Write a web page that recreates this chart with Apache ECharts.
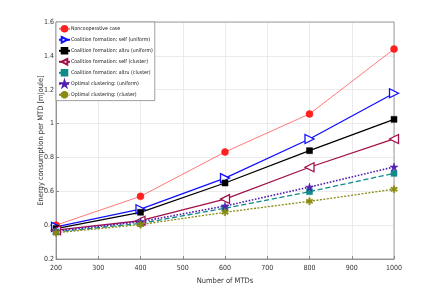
<!DOCTYPE html>
<html><head><meta charset="utf-8">
<script src="https://cdn.jsdelivr.net/npm/echarts@6/dist/echarts.min.js"></script>
<style>html,body{margin:0;padding:0;background:#fff}#c{width:436px;height:291px}</style>
</head><body><div id="c"></div>
<script>
const xValues = [200, 400, 600, 800, 1000];
const seriesNames = [
  'Noncooperative case',
  'Coalition formation: self (uniform)',
  'Coalition formation: altru (uniform)',
  'Coalition formation: self (cluster)',
  'Coalition formation: altru (cluster)',
  'Optimal clustering: (uniform)',
  'Optimal clustering: (cluster)'
];
const nonCoop      = [0.40, 0.57, 0.832, 1.057, 1.44];
const selfUniform  = [0.39, 0.494, 0.678, 0.909, 1.179];
const altruUniform = [0.38, 0.476, 0.649, 0.84, 1.025];
const selfCluster  = [0.37, 0.426, 0.554, 0.742, 0.909];
const altruCluster = [0.36, 0.41, 0.50, 0.598, 0.706];
const optUniform   = [0.365, 0.42, 0.513, 0.625, 0.744];
const optCluster   = [0.355, 0.403, 0.476, 0.541, 0.612];
const yTicks = [0.2, 0.4, 0.6, 0.8, 1, 1.2, 1.4, 1.6];

const font = "'Liberation Sans Narrow','DejaVu Sans Condensed',sans-serif";
const triR = 'path://M0,0L10,5L0,10Z';
const triL = 'path://M10,0L0,5L10,10Z';
const star = 'path://M50,0L61,35L98,35L68,57L79,91L50,70L21,91L32,57L2,35L39,35Z';
const aster = 'path://M4,0H6V3.3L8.8,1.7L9.8,3.4L7,5L9.8,6.6L8.8,8.3L6,6.7V10H4V6.7L1.2,8.3L0.2,6.6L3,5L0.2,3.4L1.2,1.7L4,3.3Z';

function mk(name, data, color, symbol, size, type, hollow, width, opacity) {
  return {
    name, type: 'line', data: data.map((v, i) => [xValues[i], v]),
    symbol, symbolSize: size, showSymbol: true,
    lineStyle: { color, width: width || 1.2, type: type || 'solid', opacity: opacity || 1 },
    itemStyle: hollow ? { color: '#fff', borderColor: color, borderWidth: 1.3 } : { color, borderColor: color, borderWidth: 0.5 },
    emphasis: { disabled: true }, animation: false
  };
}

const chart = echarts.init(document.getElementById('c'), null, { renderer: 'canvas' });
chart.setOption({
  animation: false,
  backgroundColor: '#fff',
  grid: { left: 56, right: 42, top: 22, bottom: 32, show: false },
  legend: {
    orient: 'vertical', left: 56, top: 22,
    itemWidth: 11, itemHeight: 7, itemGap: 3.4,
    padding: [3, 2, 2, 2],
    backgroundColor: '#fff', borderColor: '#888', borderWidth: 0.8,
    textStyle: { fontFamily: font, fontSize: 5.2, color: '#111', padding: [0, 0, 0, -4] },
    data: seriesNames
  },
  xAxis: {
    type: 'value', min: 200, max: 1000, interval: 100,
    name: 'Number of MTDs', nameLocation: 'middle', nameGap: 18, nameMoveOverlap: false,
    nameTextStyle: { fontFamily: font, fontSize: 7.5, color: '#333' },
    axisLine: { show: true, lineStyle: { color: '#888', width: 0.8 } },
    axisTick: { inside: true, length: 3, lineStyle: { color: '#888' } },
    axisLabel: { fontFamily: font, fontSize: 7, color: '#333', margin: 6, formatter: v => String(v) },
    splitLine: { show: true, lineStyle: { color: '#e6e6e6', width: 0.8 } }
  },
  yAxis: {
    type: 'value', min: 0.2, max: 1.6, interval: 0.2,
    name: 'Energy consumption per MTD [mJoule]', nameLocation: 'middle', nameGap: 11, nameMoveOverlap: false,
    nameTextStyle: { fontFamily: font, fontSize: 7.5, color: '#333' },
    axisLine: { show: true, lineStyle: { color: '#888', width: 0.8 } },
    axisTick: { inside: true, length: 3, lineStyle: { color: '#888' } },
    axisLabel: { fontFamily: font, fontSize: 7, color: '#333', margin: 2,
      formatter: v => { const t = yTicks.find(k => Math.abs(k - v) < 1e-6); return t === undefined ? '' : String(t); } },
    splitLine: { show: true, lineStyle: { color: '#e6e6e6', width: 0.8 } }
  },
  series: [
    mk(seriesNames[0], nonCoop, '#ff2020', 'circle', 7, 'solid', false, 1, 0.6),
    mk(seriesNames[1], selfUniform, '#1010ff', triR, 9, 'solid', true, 1.3),
    mk(seriesNames[2], altruUniform, '#000000', 'rect', 6, 'solid', false, 1.3),
    mk(seriesNames[3], selfCluster, '#a0104a', triL, 9, 'solid', true, 1.3),
    mk(seriesNames[4], altruCluster, '#108a8a', 'rect', 6, 'dashed', false, 1.3),
    mk(seriesNames[5], optUniform, '#5020b0', star, 8, 'dotted', false, 1.6),
    mk(seriesNames[6], optCluster, '#8a8a10', aster, 7, [2, 1.5], false, 1.3)
  ],
  graphic: [{ type: 'rect', shape: { x: 56, y: 22, width: 338, height: 237 }, style: { fill: 'none', stroke: '#888', lineWidth: 0.8 }, silent: true, z: 1 }]
});
</script></body></html>
